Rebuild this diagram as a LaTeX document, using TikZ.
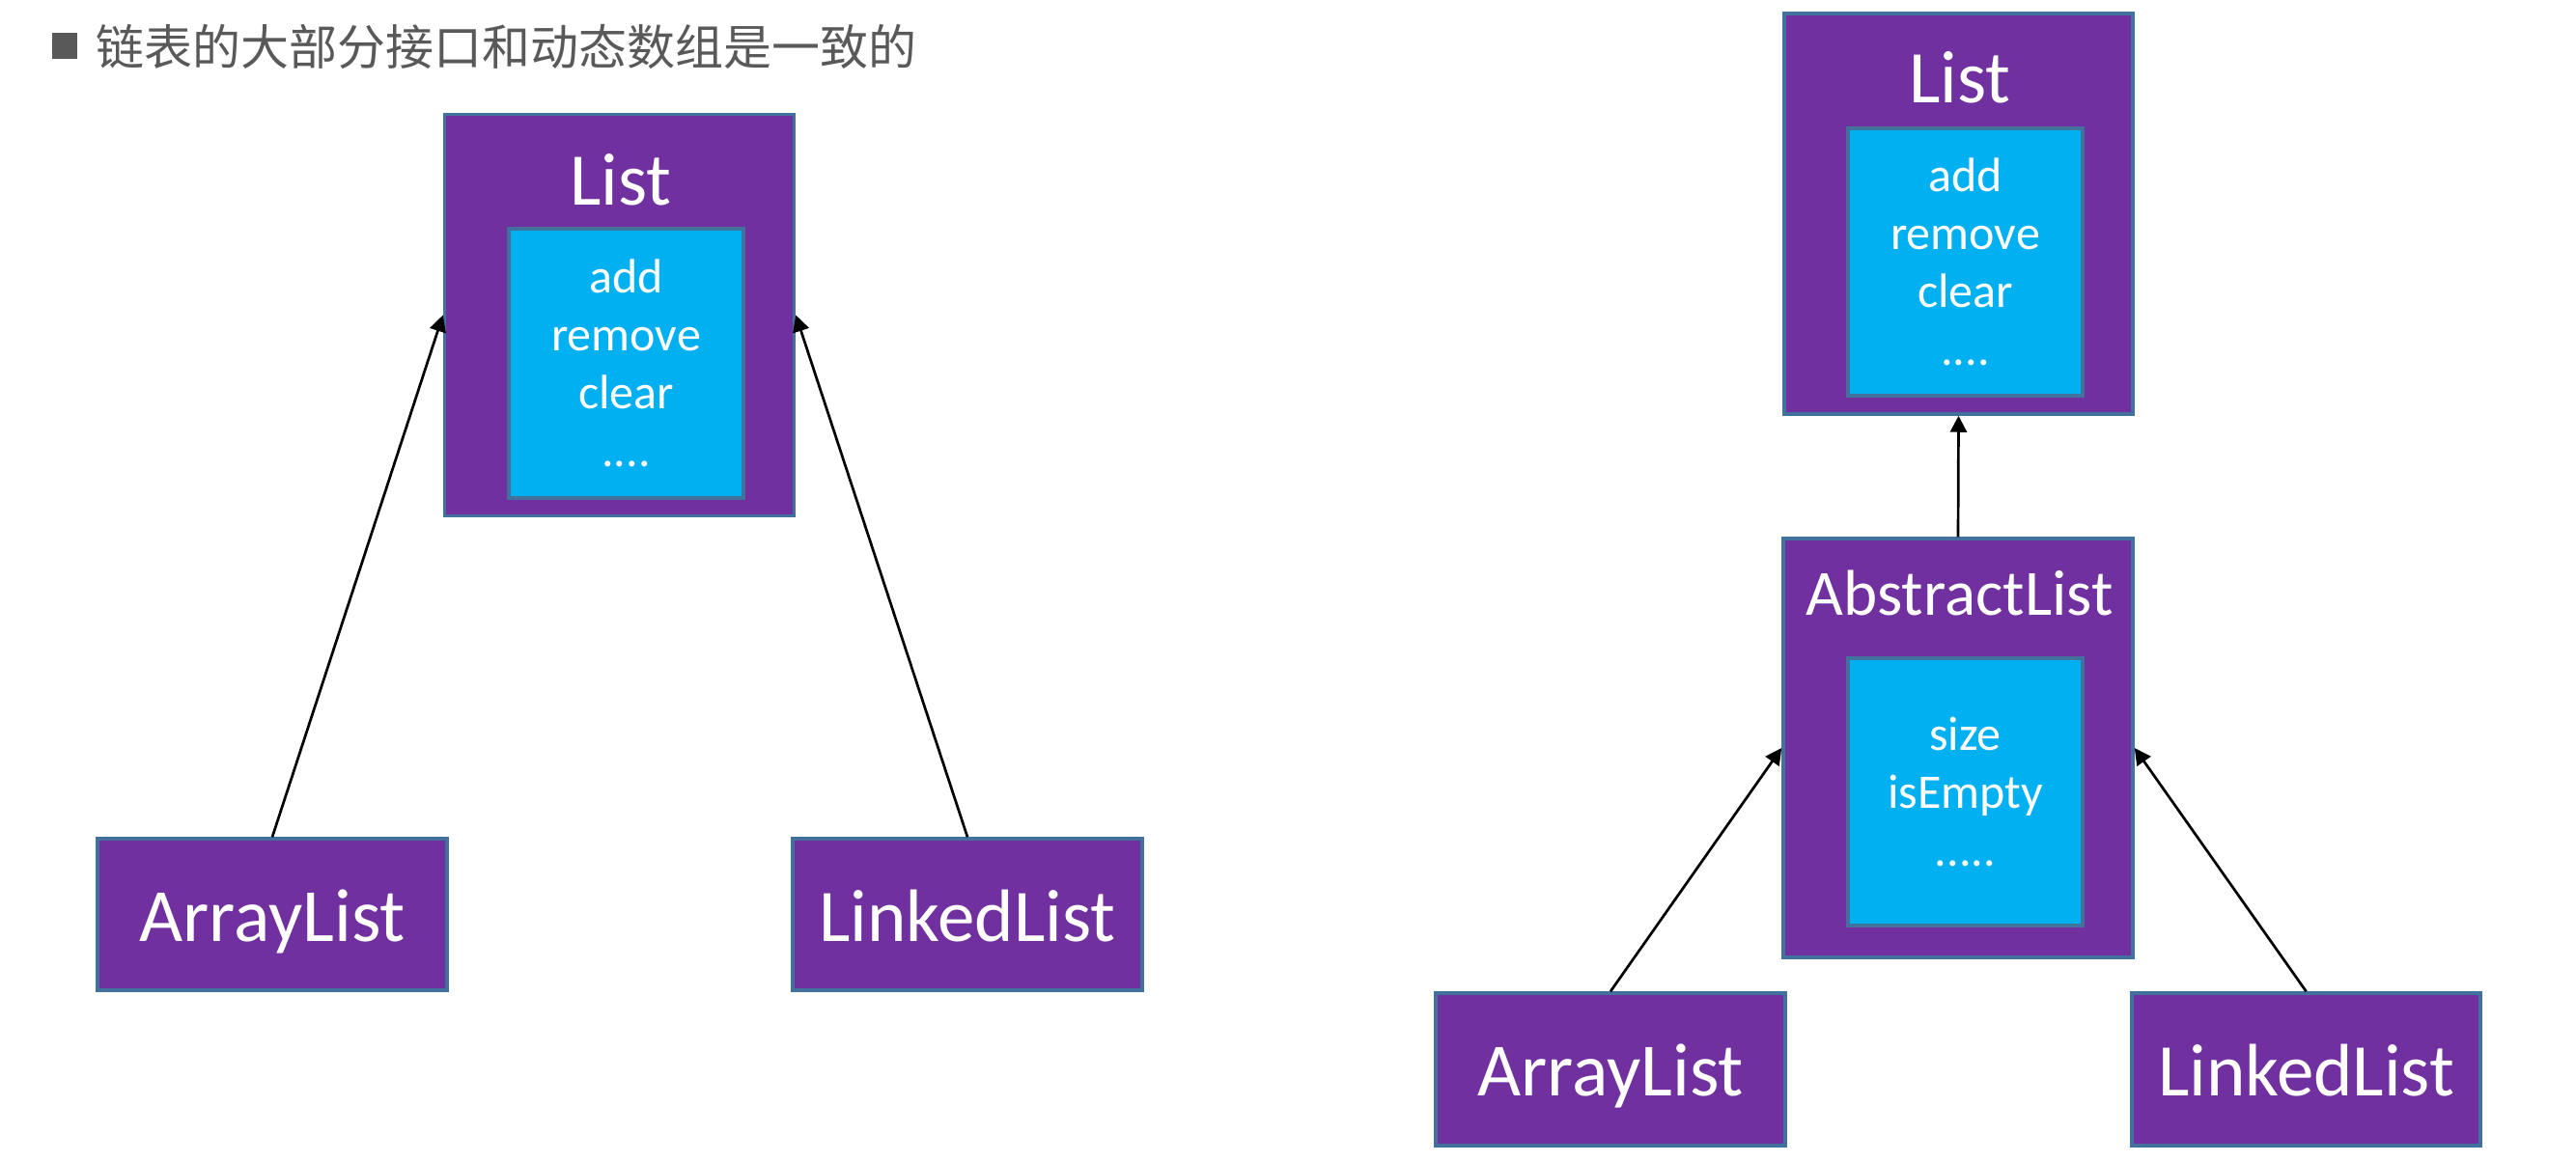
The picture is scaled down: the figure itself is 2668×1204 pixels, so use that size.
\documentclass[tikz,border=0pt]{standalone}
\usepackage{fontspec}
\setmainfont{Carlito}
\newfontfamily\cjk{Noto Sans CJK SC}
\usetikzlibrary{arrows.meta}
\definecolor{boxpurple}{HTML}{7030A0}
\definecolor{boxedge}{HTML}{41719C}
\definecolor{boxcyan}{HTML}{00B0F0}
\definecolor{titlegray}{HTML}{595959}
\tikzset{
  outerbox/.style={draw=boxedge, line width=3.5pt, fill=boxpurple, inner sep=0pt, rectangle},
  innerbox/.style={draw=boxedge, line width=3.5pt, fill=boxcyan, inner sep=0pt, rectangle,
    text=white, align=center, font=\fontsize{50}{60}\selectfont},
  boxtitle/.style={anchor=base, text=white, inner sep=0pt},
  arr/.style={line width=2.7pt, -{Triangle[length=17pt,width=17pt]}},
}
\begin{document}
\begin{tikzpicture}[x=1pt,y=-1pt]
\useasboundingbox (0,0) rectangle (2668,1204);
% title
\node[fill=titlegray, minimum width=26pt, minimum height=27pt, inner sep=0pt] (bullet) at (67,47.5) {};
\node[anchor=base west, inner sep=0pt, text=titlegray, font=\cjk\fontsize{50}{60}\selectfont] (title) at (99,68) {链表的大部分接口和动态数组是一致的};

% left diagram
\node[outerbox, minimum width=362pt, minimum height=416pt] (list1) at (641.5,326.5) {};
\node[boxtitle, font=\fontsize{77}{80}\selectfont] (list1t) at (643,212) {List};
\node[innerbox, minimum width=243pt, minimum height=279pt] (list1in) at (648.5,376.5) {add\\remove\\clear\\....};
\node[outerbox, minimum width=362pt, minimum height=157pt] (arr1) at (282,947.5) {};
\node[boxtitle, font=\fontsize{78}{80}\selectfont] (arr1t) at (282,975) {ArrayList};
\node[outerbox, minimum width=362pt, minimum height=157pt] (lnk1) at (1002,947.5) {};
\node[boxtitle, font=\fontsize{77}{80}\selectfont] (lnk1t) at (1002,975) {LinkedList};
\draw[arr] (arr1.north) -- (list1.west);
\draw[arr] (lnk1.north) -- (list1.east);

% right diagram
\node[outerbox, minimum width=361pt, minimum height=415pt] (list2) at (2028.5,221.5) {};
\node[boxtitle, font=\fontsize{77}{80}\selectfont] (list2t) at (2030,107) {List};
\node[innerbox, minimum width=243pt, minimum height=277pt] (list2in) at (2035.5,271.5) {add\\remove\\clear\\....};
\node[outerbox, minimum width=362pt, minimum height=434pt] (abs) at (2028,775) {};
\node[boxtitle, font=\fontsize{67}{70}\selectfont] (abst) at (2029.5,637) {AbstractList};
\node[innerbox, minimum width=243pt, minimum height=277pt] (absin) at (2035.5,820.5) {size\\isEmpty\\.....};
\node[outerbox, minimum width=362pt, minimum height=158pt] (arr2) at (1668,1108) {};
\node[boxtitle, font=\fontsize{78}{80}\selectfont] (arr2t) at (1668,1135) {ArrayList};
\node[outerbox, minimum width=361pt, minimum height=158pt] (lnk2) at (2388.5,1108) {};
\node[boxtitle, font=\fontsize{77}{80}\selectfont] (lnk2t) at (2388.5,1135) {LinkedList};
\draw[arr] (abs.north) -- (list2.south);
\draw[arr] (arr2.north) -- (abs.west);
\draw[arr] (lnk2.north) -- (abs.east);
\end{tikzpicture}
\end{document}
